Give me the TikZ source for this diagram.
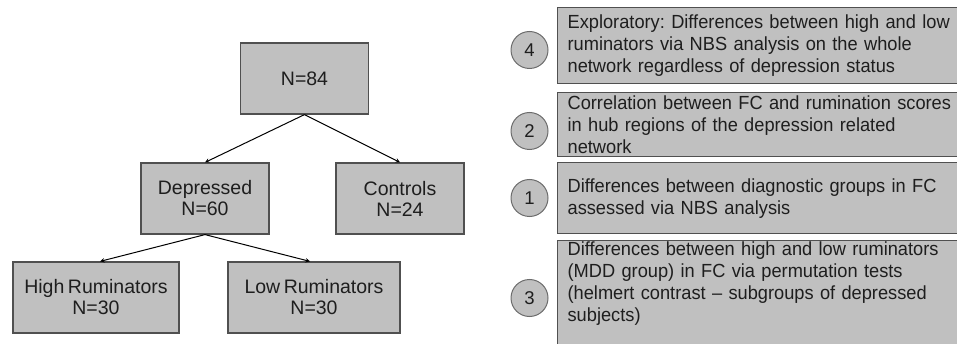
\documentclass[tikz,border=0pt]{standalone}
\usepackage{fontspec}
\setmainfont{Liberation Sans}[WordSpace=0.65]
\newfontfamily\aimfont{Liberation Sans}[FakeStretch=0.96, WordSpace=0.6, Ligatures=TeX]
\usetikzlibrary{ arrows,
                 positioning, % For easy node-relative placements
               }
\definecolor{boxgray}{RGB}{192,192,192}
\definecolor{linegray}{RGB}{80,80,80}
\definecolor{textgray}{RGB}{30,30,30}
\tikzstyle{edge} = [->, >=stealth, black, line width=1pt]
\tikzstyle{group} = [rectangle, draw=linegray, fill=boxgray, line width=1.2pt, inner sep=0pt, minimum height=71pt, align=center, text=textgray, font=\fontsize{19.5}{21}\selectfont]
\tikzstyle{aim} = [rectangle, draw=linegray, fill=boxgray, line width=1.2pt, anchor=north west, minimum width=420pt, text width=400pt, inner xsep=7pt, inner ysep=0pt, align=left, text=textgray, font=\aimfont\fontsize{19}{22}\selectfont]
\tikzstyle{num} = [circle, draw=gray!85!black, fill=boxgray, line width=1pt, minimum size=37pt, inner sep=0pt, text=textgray, font=\fontsize{18.5}{21}\selectfont]

\begin{document}
\begin{tikzpicture}[x=1pt, y=-1pt]
  \useasboundingbox (0, 0) rectangle (957, 344);

  % sample tree
  \node (all) [group, minimum width=128pt] at (304.5, 78.5) {N=84};
  \node (dep) [group, minimum width=128pt] at (205, 198.5) {Depressed\\N=60};
  \node (ctl) [group, minimum width=128pt] at (400, 198.5) {Controls\\N=24};
  \node (high) [group, minimum width=166pt] at (96, 297.5) {High Ruminators\\N=30};
  \node (low) [group, minimum width=172pt] at (314, 297.5) {Low Ruminators\\N=30};
  \draw [edge] (all.south) -- (dep.north);
  \draw [edge] (all.south) -- (ctl.north);
  \draw [edge] (dep.south) -- ([xshift=4pt]high.north);
  \draw [edge] (dep.south) -- ([xshift=-4pt]low.north);

  % analyses
  \node (s4) [aim, minimum height=76pt] at (557, 7) {Exploratory:\ Differences between high and low\\ruminators via NBS analysis on the whole\\network regardless of depression status};
  \node (s2) [aim, minimum height=64pt] at (557, 92) {Correlation between FC and rumination scores\\in hub regions of the depression related\\network};
  \node (s1) [aim, minimum height=71pt] at (557, 162) {Differences between diagnostic groups in FC\\assessed via NBS analysis};
  \node (s3) [aim, minimum height=110pt] at (557, 240) {Differences between high and low ruminators\\(MDD\ group) in FC via permutation tests\\(helmert contrast – subgroups of depressed\\subjects)\\ \strut};

  \node (c4) [num] at (529.5, 50) {4};
  \node (c2) [num] at (529.5, 131) {2};
  \node (c1) [num] at (529.5, 198) {1};
  \node (c3) [num] at (529.5, 298) {3};
\end{tikzpicture}
\end{document}
